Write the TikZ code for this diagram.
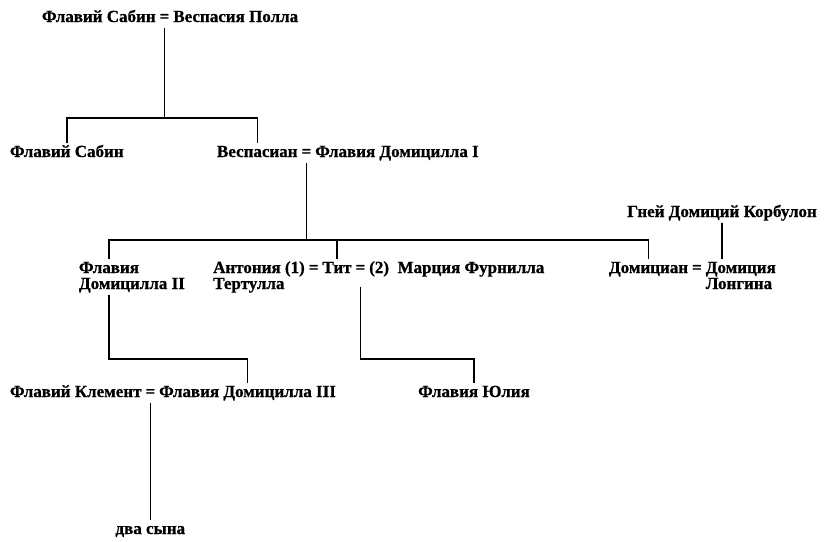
\documentclass[tikz,border=0pt]{standalone}
\usepackage{fontspec}
\setmainfont{Liberation Serif}[BoldFeatures={FakeBold=0.8}]
\begin{document}
\begin{tikzpicture}[x=1pt,y=-1pt,
  txt/.style={inner sep=0pt, outer sep=2pt, text height=12pt, text depth=3.5pt,
    font=\fontsize{17}{17}\selectfont\bfseries, anchor=base west},
  ln/.style={line width=1.5pt}]
\useasboundingbox (0,0) rectangle (830,541);
\coordinate (y1) at (0,118);
\coordinate (y2) at (0,240);
\coordinate (y3) at (0,359);
\coordinate (r3b) at (0,289);
\coordinate (r5) at (0,534);
% generation 1
\node[txt] (fs0) at (40,22) {Флавий Сабин};
\node[txt] (eq0) at (fs0.base east) {=};
\node[txt] (vp0) at (eq0.base east) {Веспасия Полла};
% generation 2
\node[txt] (fs1) at (8,157) {Флавий Сабин};
\node[txt] (ves) at (215,157) {Веспасиан};
\node[txt] (eq1) at (ves.base east) {=};
\node[txt] (fd1) at (eq1.base east) {Флавия Домицилла I};
\draw[ln] (eq0.south) -- (eq0.south |- y1);
\draw[ln] (fs1.north) -- (fs1.north |- y1) -- (ves.north |- y1) -- (ves.north);
% generation 3
\node[txt] (fd2a) at (77,273) {Флавия};
\node[txt] (fd2b) at (77,289) {Домицилла II};
\node[txt, anchor=base] (tit) at (337,273) {Тит};
\node[txt, anchor=base east] (eq2) at (tit.base west) {=};
\node[txt, anchor=base east] (ant) at (eq2.base west) {Антония (1)};
\node[txt] (ter) at (ant.base west |- r3b) {Тертулла};
\node[txt] (eq3) at (tit.base east) {=};
\node[txt] (mar) at (eq3.base east) {(2)\ \ Марция Фурнилла};
\node[txt] (dom) at (607,273) {Домициан};
\node[txt] (eq4) at (dom.base east) {=};
\node[txt] (dmc) at (eq4.base east) {Домиция};
\node[txt] (lon) at (dmc.base west |- r3b) {Лонгина};
\node[txt, anchor=base] (kor) at (722,217) {Гней Домиций Корбулон};
\draw[ln] (eq1.south) -- (eq1.south |- y2);
\draw[ln] (fd2a.north) -- (fd2a.north |- y2) -- (dom.north |- y2) -- (dom.north);
\draw[ln] (tit.north |- y2) -- (tit.north);
\draw[ln] (kor.south) -- (kor.south |- dmc.north);
% generation 4
\node[txt] (fk) at (8,397) {Флавий Клемент};
\node[txt] (eq5) at (fk.base east) {=};
\node[txt] (fd3) at (eq5.base east) {Флавия Домицилла III};
\node[txt, anchor=base] (ju) at (474,397) {Флавия Юлия};
\node[txt, anchor=base] (dva) at (eq5.base |- r5) {два сына};
\draw[ln] (fd2a.south |- fd2b.south) -- (fd2a.south |- y3) -- (fd3.north |- y3) -- (fd3.north);
\draw[ln, shorten <=8pt] (eq3.south) -- (eq3.south |- y3) -- (ju.north |- y3) -- (ju.north);
\draw[ln] (eq5.south) -- (dva.north);
\end{tikzpicture}
\end{document}
